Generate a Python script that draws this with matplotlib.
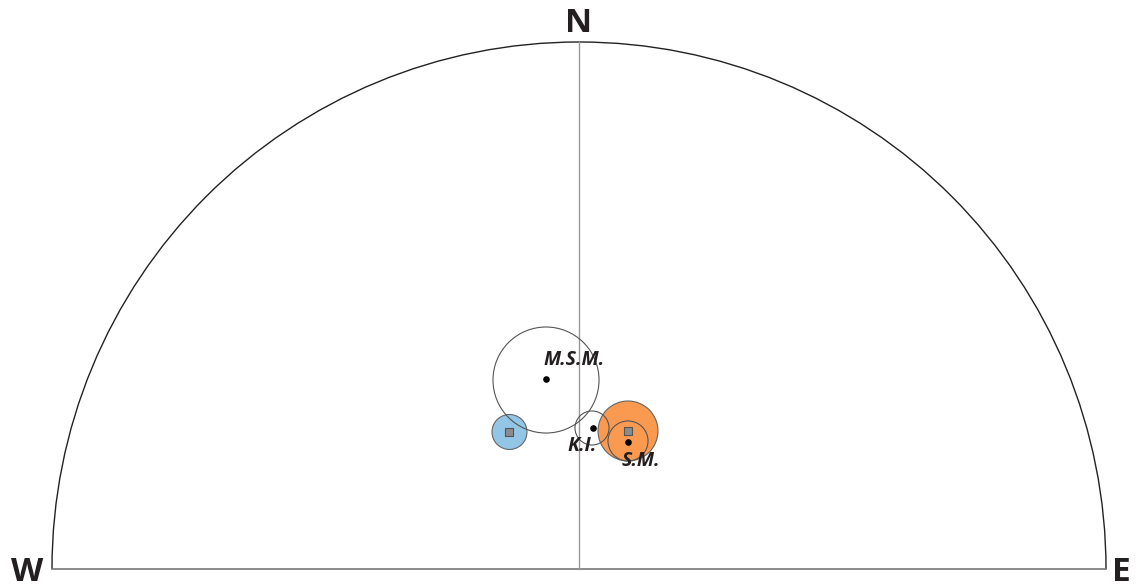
import numpy as np
import matplotlib
matplotlib.use("Agg")
import matplotlib.pyplot as plt
from matplotlib.patches import Circle, Arc

plt.rcParams['font.family'] = ['Open Sans', 'DejaVu Sans']

# site means, projected onto a net of unit radius (x east, y north)
sites = ['M.S.M.', 'K.I.', 'S.M.']
site_x = [-0.0626, 0.0266, 0.0930]
site_y = [0.3605, 0.2676, 0.2410]
site_a95 = [0.1006, 0.0323, 0.038]
site_cx = [-0.0626, 0.0247, 0.0930]
site_cy = [0.3586, 0.2676, 0.2429]

# reference poles (square) with filled confidence circles
ref_x = [-0.1319, 0.0930]
ref_y = [0.2600, 0.2619]
ref_a95 = [0.0332, 0.0569]
ref_colors = ['#92c5e6', '#fa9a50']

fig = plt.figure(figsize=(11.37, 5.88), dpi=100)
ax = fig.add_axes([0, 0, 1, 1])
ax.set_xlim(-579 / 527, (1137 - 579) / 527)
ax.set_ylim(-(588 - 569) / 527, 569 / 527)
ax.set_aspect('equal')
ax.axis('off')

# upper half of the net
ax.add_patch(Arc((0, 0), 2, 2, theta1=0, theta2=180, color='#222222', lw=1.0))
ax.plot([-1, 1], [0, 0], color='#777777', lw=1.2)
ax.plot([0, 0], [0, 1], color='#999999', lw=1.0)

for x, y, r, c in zip(ref_x, ref_y, ref_a95, ref_colors):
    ax.add_patch(Circle((x, y), r, facecolor=c, edgecolor='#666666', lw=0.8, zorder=2))
ax.scatter(ref_x, ref_y, marker='s', s=30, color='#8c8c8c', edgecolors='#555555',
           linewidths=0.8, zorder=4)

for cx, cy, r in zip(site_cx, site_cy, site_a95):
    ax.add_patch(Circle((cx, cy), r, facecolor='none', edgecolor='#555555', lw=0.8, zorder=3))
ax.scatter(site_x, site_y, s=14, color='black', zorder=5)

label_off = [(-0.005, 0.018, 'left', 'bottom'),
             (0.008, -0.016, 'right', 'top'),
             (-0.012, -0.017, 'left', 'top')]
for name, x, y, (dx, dy, ha, va) in zip(sites, site_x, site_y, label_off):
    ax.text(x + dx, y + dy, name, fontsize=14, fontweight='bold', fontstyle='italic',
            color='#231f20', ha=ha, va=va, zorder=6)

dir_kw = dict(fontsize=24, fontweight='bold', color='#231f20', ha='center', va='baseline')
ax.text(0, 1.019, 'N', **dir_kw)
ax.text(-1.0465, -0.0228, 'W', **dir_kw)
ax.text(1.030, -0.0228, 'E', **dir_kw)

fig.savefig('out.png', dpi=100)
